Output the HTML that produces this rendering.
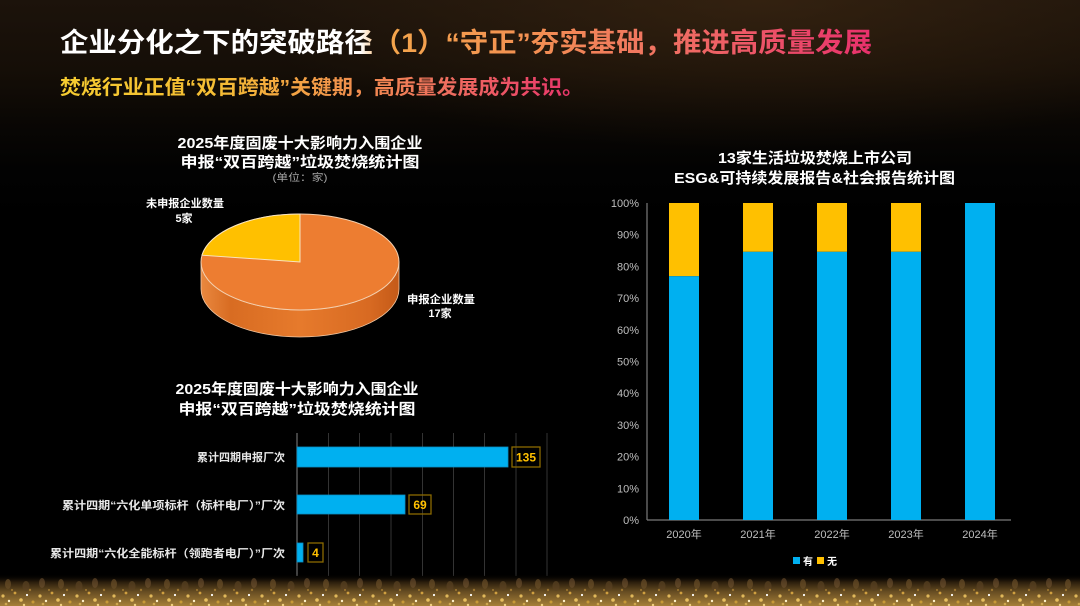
<!DOCTYPE html>
<html>
<head>
<meta charset="utf-8">
<style>
html,body{margin:0;padding:0;}
body{width:1080px;height:606px;overflow:hidden;position:relative;
background:
radial-gradient(ellipse 520px 150px at 760px 0px, rgba(70,45,20,0.55), rgba(0,0,0,0) 100%),
linear-gradient(to bottom,#1c130b 0px,#150e07 70px,#0a0704 120px,#020202 170px,#000 220px);
font-family:"Liberation Sans","Noto Sans CJK SC",sans-serif;}
svg{position:absolute;left:0;top:0;}
</style>
</head>
<body>
<svg width="1080" height="606" viewBox="0 0 1080 606" xmlns="http://www.w3.org/2000/svg" font-family="'Liberation Sans','Noto Sans CJK SC',sans-serif">
<defs>
<linearGradient id="tg" gradientUnits="userSpaceOnUse" x1="60" y1="0" x2="872" y2="0">
<stop offset="0" stop-color="#ffffff"/>
<stop offset="0.37" stop-color="#ffffff"/>
<stop offset="0.40" stop-color="#f4a64c"/>
<stop offset="0.58" stop-color="#f39052"/>
<stop offset="0.74" stop-color="#f07262"/>
<stop offset="0.88" stop-color="#ec5068"/>
<stop offset="1" stop-color="#e8306c"/>
</linearGradient>
<linearGradient id="sg" gradientUnits="userSpaceOnUse" x1="60" y1="0" x2="583" y2="0">
<stop offset="0" stop-color="#f6cc30"/>
<stop offset="0.3" stop-color="#f5bd34"/>
<stop offset="0.5" stop-color="#f29a48"/>
<stop offset="0.75" stop-color="#ef6c60"/>
<stop offset="1" stop-color="#e8306c"/>
</linearGradient>
<linearGradient id="side" gradientUnits="userSpaceOnUse" x1="201" y1="0" x2="399" y2="0">
<stop offset="0" stop-color="#e9883f"/>
<stop offset="0.15" stop-color="#d86c22"/>
<stop offset="0.5" stop-color="#e67a2c"/>
<stop offset="0.85" stop-color="#d86a22"/>
<stop offset="1" stop-color="#c45a18"/>
</linearGradient>
<linearGradient id="band" x1="0" y1="0" x2="0" y2="1">
<stop offset="0" stop-color="#000" stop-opacity="0"/>
<stop offset="0.25" stop-color="#2a1d0c"/>
<stop offset="0.55" stop-color="#664c22"/>
<stop offset="1" stop-color="#a68038"/>
</linearGradient>
<pattern id="glit" patternUnits="userSpaceOnUse" x="0" y="588" width="37" height="18">
<circle cx="3" cy="8" r="1.6" fill="#e0b85a"/>
<circle cx="9" cy="13" r="1.2" fill="#fff1c8"/>
<circle cx="15" cy="5" r="1.4" fill="#d0a040"/>
<circle cx="21" cy="12" r="1.8" fill="#e8c060"/>
<circle cx="27" cy="7" r="1.1" fill="#ffffff"/>
<circle cx="33" cy="14" r="1.5" fill="#c89a38"/>
<circle cx="12" cy="2" r="1" fill="#a07830"/>
<circle cx="30" cy="2" r="1.2" fill="#9a7430"/>
<circle cx="6" cy="16" r="1.3" fill="#d0a850"/>
<circle cx="24" cy="17" r="1.2" fill="#f0d080"/>
</pattern>
<pattern id="bokeh" patternUnits="userSpaceOnUse" x="0" y="576" width="53" height="16">
<ellipse cx="8" cy="8" rx="3" ry="5" fill="#6a4e28" opacity="0.7"/>
<ellipse cx="26" cy="10" rx="3.5" ry="5" fill="#5a4222" opacity="0.7"/>
<ellipse cx="42" cy="7" rx="3" ry="5" fill="#705230" opacity="0.6"/>
</pattern>
</defs>

<!-- header -->
<text x="60" y="52" font-size="27" font-weight="bold" fill="url(#tg)" textLength="812" lengthAdjust="spacingAndGlyphs">企业分化之下的突破路径（1）“守正”夯实基础，推进高质量发展</text>
<text x="60" y="94" font-size="20" font-weight="bold" fill="url(#sg)" textLength="523" lengthAdjust="spacingAndGlyphs">焚烧行业正值“双百跨越”关键期，高质量发展成为共识。</text>

<!-- pie chart -->
<g font-weight="bold" fill="#ffffff" text-anchor="middle">
<text x="300" y="148" font-size="15" textLength="245" lengthAdjust="spacingAndGlyphs">2025年度固废十大影响力入围企业</text>
<text x="300" y="167" font-size="15" textLength="239" lengthAdjust="spacingAndGlyphs">申报“双百跨越”垃圾焚烧统计图</text>
</g>
<text x="300" y="181" font-size="10" fill="#a6a6a6" text-anchor="middle" textLength="55" lengthAdjust="spacingAndGlyphs">(单位：家)</text>

<path d="M201,262 L201,289 A99,48 0 0,0 399,289 L399,262 A99,48 0 0,1 201,262 Z" fill="url(#side)" stroke="#f3c9a4" stroke-width="0.8"/>
<ellipse cx="300" cy="262" rx="99" ry="48" fill="#ed7d31" stroke="#f3d0b0" stroke-width="1"/>
<path d="M300,262 L300,214 A99,48 0 0,0 202,255.2 Z" fill="#ffc000" stroke="#f8e4c0" stroke-width="1"/>

<g font-size="11" font-weight="bold" fill="#ffffff" text-anchor="middle">
<text x="185" y="207" textLength="78" lengthAdjust="spacingAndGlyphs">未申报企业数量</text>
<text x="184" y="222">5家</text>
<text x="441" y="303" textLength="68" lengthAdjust="spacingAndGlyphs">申报企业数量</text>
<text x="440" y="317">17家</text>
</g>

<!-- horizontal bar chart -->
<g font-weight="bold" fill="#ffffff" text-anchor="middle">
<text x="297" y="394" font-size="15" textLength="243" lengthAdjust="spacingAndGlyphs">2025年度固废十大影响力入围企业</text>
<text x="297" y="414" font-size="15" textLength="237" lengthAdjust="spacingAndGlyphs">申报“双百跨越”垃圾焚烧统计图</text>
</g>
<g stroke="#333333" stroke-width="1">
<line x1="328.5" y1="433" x2="328.5" y2="576"/>
<line x1="359.5" y1="433" x2="359.5" y2="576"/>
<line x1="391" y1="433" x2="391" y2="576"/>
<line x1="422.5" y1="433" x2="422.5" y2="576"/>
<line x1="453.5" y1="433" x2="453.5" y2="576"/>
<line x1="484.5" y1="433" x2="484.5" y2="576"/>
<line x1="516" y1="433" x2="516" y2="576"/>
<line x1="547" y1="433" x2="547" y2="576"/>
</g>
<line x1="297" y1="433" x2="297" y2="576" stroke="#6e6e6e" stroke-width="1.2"/>
<g fill="#00b0f0" stroke="#0a8fc4" stroke-width="0.8">
<rect x="297" y="447" width="211" height="20"/>
<rect x="297" y="495" width="108" height="19"/>
<rect x="297" y="543" width="6" height="19"/>
</g>
<g fill="none" stroke="#8a6a00" stroke-width="1.3">
<rect x="512" y="447" width="28" height="20"/>
<rect x="409" y="495" width="22" height="19"/>
<rect x="308" y="543" width="15" height="19"/>
</g>
<g fill="#ffc000" font-size="12" font-weight="bold" text-anchor="middle">
<text x="526" y="461.5">135</text>
<text x="420" y="509">69</text>
<text x="315.5" y="557">4</text>
</g>
<g fill="#e8e8e8" font-size="11" font-weight="bold" text-anchor="end">
<text x="285" y="461" textLength="88" lengthAdjust="spacingAndGlyphs">累计四期申报厂次</text>
<text x="285" y="509" textLength="223" lengthAdjust="spacingAndGlyphs">累计四期“六化单项标杆（标杆电厂）”厂次</text>
<text x="285" y="557" textLength="235" lengthAdjust="spacingAndGlyphs">累计四期“六化全能标杆（领跑者电厂）”厂次</text>
</g>

<!-- stacked column chart -->
<g font-weight="bold" fill="#ffffff" text-anchor="middle">
<text x="815" y="163" font-size="15" textLength="194" lengthAdjust="spacingAndGlyphs">13家生活垃圾焚烧上市公司</text>
<text x="814.5" y="183" font-size="15" textLength="281" lengthAdjust="spacingAndGlyphs">ESG&amp;可持续发展报告&amp;社会报告统计图</text>
</g>
<g fill="#bfbfbf" font-size="11" text-anchor="end">
<text x="639" y="524">0%</text>
<text x="639" y="492.3">10%</text>
<text x="639" y="460.6">20%</text>
<text x="639" y="428.9">30%</text>
<text x="639" y="397.2">40%</text>
<text x="639" y="365.5">50%</text>
<text x="639" y="333.8">60%</text>
<text x="639" y="302.1">70%</text>
<text x="639" y="270.4">80%</text>
<text x="639" y="238.7">90%</text>
<text x="639" y="207">100%</text>
</g>
<line x1="647" y1="203" x2="647" y2="520" stroke="#7a7a7a" stroke-width="1.2"/>
<line x1="647" y1="520" x2="1011" y2="520" stroke="#7a7a7a" stroke-width="1.2"/>
<g fill="#ffc000">
<rect x="669" y="203" width="30" height="73.2"/>
<rect x="743" y="203" width="30" height="48.8"/>
<rect x="817" y="203" width="30" height="48.8"/>
<rect x="891" y="203" width="30" height="48.8"/>
</g>
<g fill="#00b0f0">
<rect x="669" y="276.2" width="30" height="243.8"/>
<rect x="743" y="251.8" width="30" height="268.2"/>
<rect x="817" y="251.8" width="30" height="268.2"/>
<rect x="891" y="251.8" width="30" height="268.2"/>
<rect x="965" y="203" width="30" height="317"/>
</g>
<g fill="#bfbfbf" font-size="11" text-anchor="middle">
<text x="684" y="538">2020年</text>
<text x="758" y="538">2021年</text>
<text x="832" y="538">2022年</text>
<text x="906" y="538">2023年</text>
<text x="980" y="538">2024年</text>
</g>
<rect x="793" y="557" width="7" height="7" fill="#00b0f0"/>
<text x="803" y="565" font-size="10" font-weight="bold" fill="#ffffff">有</text>
<rect x="817" y="557" width="7" height="7" fill="#ffc000"/>
<text x="827" y="565" font-size="10" font-weight="bold" fill="#ffffff">无</text>

<!-- bottom glitter -->
<rect x="0" y="574" width="1080" height="32" fill="url(#band)"/>
<rect x="0" y="576" width="1080" height="16" fill="url(#bokeh)"/>
<rect x="0" y="588" width="1080" height="18" fill="url(#glit)"/>
</svg>
</body>
</html>
